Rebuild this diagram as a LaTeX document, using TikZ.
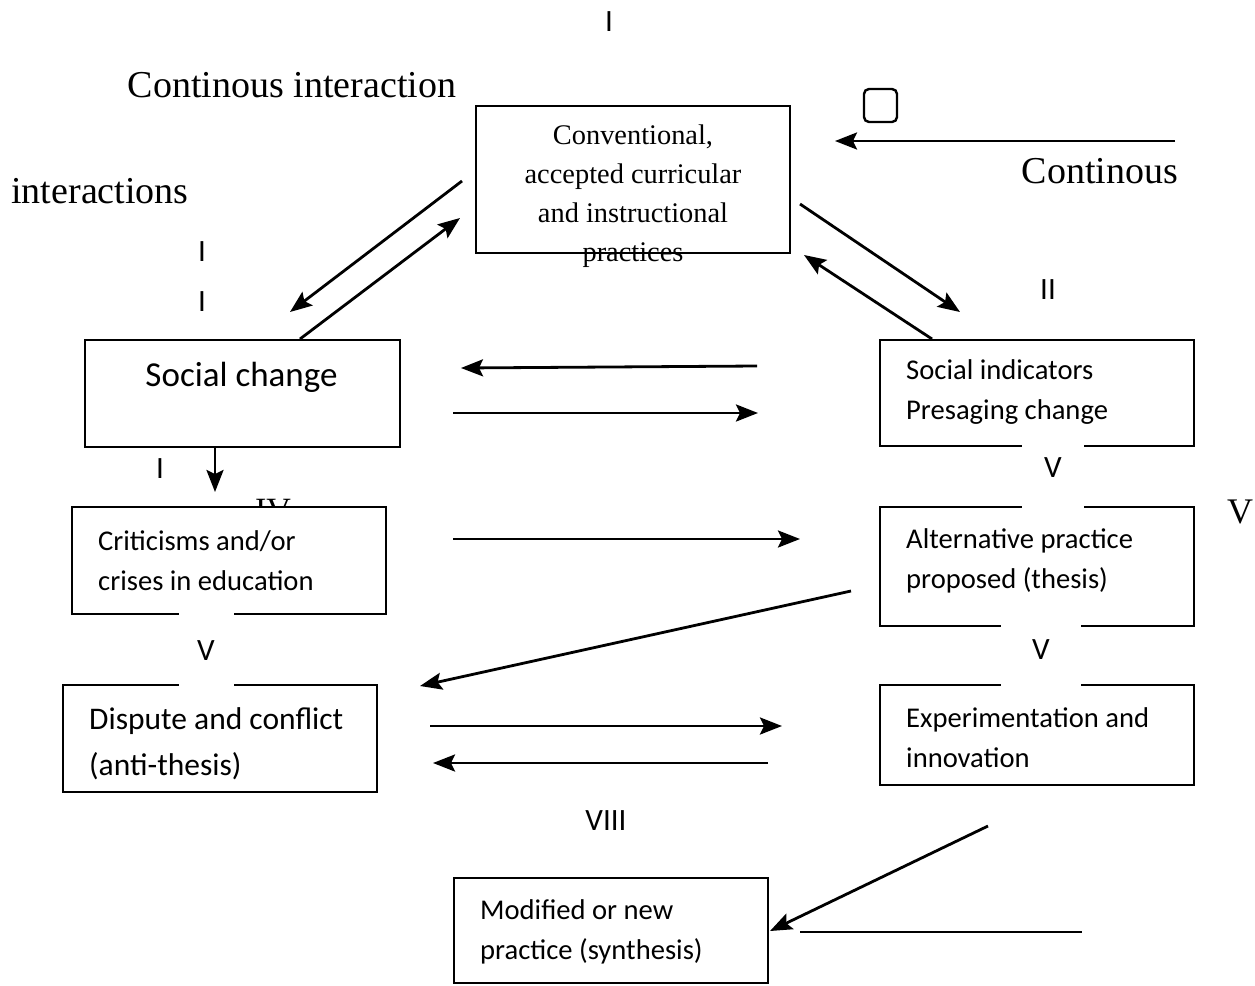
\documentclass[tikz,border=0pt]{standalone}
\usepackage{fontspec}
\setmainfont{Liberation Serif}
\newfontfamily\boxfont{Carlito}
\usetikzlibrary{arrows.meta, calc}
\tikzset{
  stage/.style={
    rectangle, draw=black, line width=2.2pt, fill=white,
    minimum width=314pt, inner sep=0pt, outer sep=0pt},
  stagetext/.style={align=left, inner sep=0pt, anchor=west,
    font=\boxfont\fontsize{28.6}{40}\selectfont},
  note/.style={font=\fontsize{38}{44}\selectfont, inner sep=0pt},
  numl/.style={font=\boxfont\fontsize{31}{36}\selectfont, inner sep=0pt},
  gapl/.style={numl, fill=white},
  arr/.style={-{Stealth[length=22pt, width=17pt, inset=4pt]}, line width=2.8pt},
}
\begin{document}
\begin{tikzpicture}[x=1pt, y=-1pt]
  \useasboundingbox (0,0) rectangle (1255,985);
  % free-standing labels
  \node[numl] (topI) at (609,22) {I};
  \node[note] (contint) at (292,85) {Continous interaction};
  \node[note] (inter) at (100,191) {interactions};
  \node[note] (cont) at (1100,171) {Continous};
  \node[numl] (lI1) at (202,252) {I};
  \node[numl] (lI2) at (202,302) {I};
  \node[numl] (rII) at (1048,290) {II};
  \node[numl] (lI3) at (160,469) {I};
  \node[font=\fontsize{34}{40}\selectfont, inner sep=0pt] (iv) at (273,511) {IV};
  \node[note, font=\fontsize{36}{40}\selectfont] (rV) at (1240,512) {V};
  \node[numl] (viii) at (606,821) {VIII};
  \node[draw, line width=2.4pt, rounded corners=5pt, minimum size=33pt,
        inner sep=0pt] (sq) at (880.5,105.5) {};
  % boxes
  \node[stage, minimum height=147pt] (conv) at (633,179.5) {};
  \node[align=center, inner sep=0pt, font=\fontsize{28.4}{39}\selectfont]
    (convtext) at ($(conv.center)+(0,16.5)$)
    {Conventional,\\accepted curricular\\and instructional\\practices};
  \node[stage, minimum height=107pt, minimum width=315pt] (soc) at (242.5,393.5) {};
  \node[font=\boxfont\fontsize{35}{40}\selectfont, inner sep=0pt]
    (soctext) at ($(soc.center)+(-1,-16)$) {Social change};
  \node[stage, minimum height=106pt] (ind) at (1037,393) {};
  \node[stagetext] (indtext) at ($(ind.west)+(26,-1)$)
    {Social indicators\\Presaging change};
  \node[stage, minimum height=107pt] (crit) at (229,560.5) {};
  \node[stagetext] (crittext) at ($(crit.west)+(26,0)$)
    {Criticisms and/or\\crises in education};
  \node[stage, minimum height=119pt] (alt) at (1037,566.5) {};
  \node[stagetext] (alttext) at ($(alt.west)+(26,-6)$)
    {Alternative practice\\proposed (thesis)};
  \node[stage, minimum height=107pt] (disp) at (220,738.5) {};
  \node[stagetext, font=\boxfont\fontsize{31.5}{46}\selectfont]
    (disptext) at ($(disp.west)+(26,5)$)
    {Dispute and conflict\\(anti-thesis)};
  \node[stage, minimum height=100pt] (exper) at (1037,735) {};
  \node[stagetext] (expertext) at ($(exper.west)+(26,3)$)
    {Experimentation and\\innovation};
  \node[stage, minimum height=105pt] (modif) at (611,930.5) {};
  \node[stagetext] (modiftext) at ($(modif.west)+(26,1)$)
    {Modified or new\\practice (synthesis)};
  % labels that break the borders
  \node[gapl, minimum width=62pt, minimum height=84pt] (v1) at (1053,468) {V};
  \node[gapl, minimum width=80pt, minimum height=76pt] (v2) at (1041,650) {V};
  \node[gapl, minimum width=55pt, minimum height=80pt] (v3) at (206,651) {V};
  % connectors
  \coordinate (contR) at (1175,141);
  \coordinate (tail) at (1082,932);
  \draw[arr] ([shift={(-14,1.5)}]conv.west) -- ([shift={(47.5,-28)}]soc.north);
  \draw[arr] ([shift={(57.5,-1)}]soc.north) -- ([shift={(-16,38.5)}]conv.west);
  \draw[arr] ([shift={(10,24.5)}]conv.east) -- ([shift={(-77,-28)}]ind.north);
  \draw[arr] ([shift={(-105,-1)}]ind.north) -- ([shift={(14,2)}]conv.south east);
  \draw[arr] (contR) -- ([shift={(45,35)}]conv.north east);
  \draw[arr] ([shift={(-123,-27)}]ind.west) -- ([shift={(61,-25.5)}]soc.east);
  \draw[arr] ([shift={(53,19.5)}]soc.east) -- ([shift={(-122,20)}]ind.west);
  \draw[arr] ([shift={(-27.5,0)}]soc.south) -- ([shift={(-14,-15)}]crit.north);
  \draw[arr] ([shift={(67,-21.5)}]crit.east) -- ([shift={(-80,-27.5)}]alt.west);
  \draw[arr] ([shift={(-29,24.5)}]alt.west) -- ([shift={(43,1)}]disp.north east);
  \draw[arr] ([shift={(53,-12.5)}]disp.east) -- ([shift={(-98,-9)}]exper.west);
  \draw[arr] ([shift={(-112,28)}]exper.west) -- ([shift={(56,24.5)}]disp.east);
  \draw[arr] ([shift={(-49,41)}]exper.south) -- ([shift={(2,0.5)}]modif.east);
  \draw[line width=2.8pt] ([shift={(32,1.5)}]modif.east) -- (tail);
\end{tikzpicture}
\end{document}
